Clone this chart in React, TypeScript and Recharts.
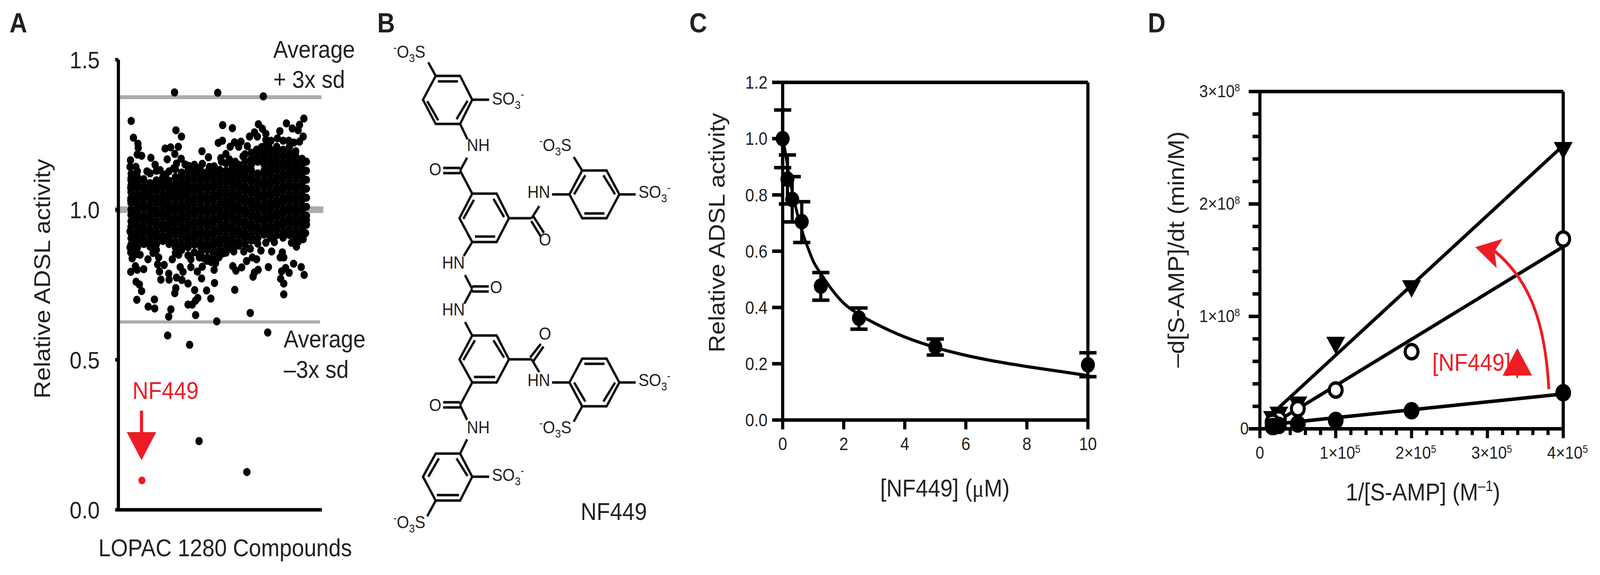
import React from 'react';
import { ComposedChart, Scatter, Line, XAxis, YAxis, ReferenceLine, ErrorBar } from 'recharts';

const FONT = '"Liberation Sans", Arial, sans-serif';
const INK = '#231f20';
const RED = '#ed1c24';
const GRAY = '#ababab';

// the browser window tops out at 4096 wide, so the 4568 wide figure is squeezed to fit it
const PAGE_W = 4568;
const PAGE_H = 1473;
const WINDOW_W = 4096;

// Panel A: screen values as [compound index, activity]
const screenOutliers: number[][] = [
  [331, 1.391], [638, 1.39], [962, 1.378], [23, 1.296], [39, 1.24], [71, 1.22], [73, 1.206], [66, 1.184], [97, 1.18],
  [163, 1.173], [18, 1.165], [193, 1.15], [15, 1.143], [56, 1.143], [23, 1.12], [341, 1.265], [380, 1.244], [264, 1.204],
  [303, 1.208], [358, 1.21], [333, 1.186], [279, 1.168], [378, 1.17], [345, 1.154], [406, 1.151], [325, 1.138], [526, 1.195],
  [572, 1.175], [472, 1.15], [528, 1.153], [579, 1.143], [673, 1.282], [742, 1.272], [671, 1.23], [642, 1.223], [726, 1.21],
  [757, 1.225], [803, 1.227], [696, 1.186], [660, 1.172], [665, 1.16], [787, 1.21], [848, 1.212], [818, 1.178], [762, 1.16],
  [927, 1.285], [955, 1.27], [899, 1.258], [864, 1.244], [980, 1.253], [919, 1.244], [1126, 1.288], [1079, 1.262], [1250, 1.304],
  [1219, 1.283], [1168, 1.271], [1209, 1.265], [1245, 1.244], [1219, 1.227], [1062, 1.238], [1103, 1.23], [1143, 1.23],
  [1179, 1.224], [980, 1.233], [1016, 1.23], [914, 1.2], [950, 1.209], [1001, 1.212],
  [1262, 0.922], [1197, 0.877], [1189, 0.902], [1177, 0.82], [1231, 0.809], [1252, 0.783], [1120, 0.806], [1092, 0.795],
  [1145, 0.79], [1085, 0.77], [1107, 0.754], [1107, 0.718], [998, 0.809], [925, 0.8], [899, 0.791], [889, 0.777], [808, 0.808],
  [767, 0.797], [745, 0.812], [759, 0.733], [869, 0.656], [631, 0.628], [481, 0.649], [305, 0.668], [290, 0.644], [188, 0.701],
  [190, 0.671], [144, 0.677], [63, 0.7], [97, 0.729], [81, 0.751], [58, 0.76], [20, 0.793], [66, 0.8], [112, 0.802], [53, 0.812],
  [234, 0.767], [292, 0.767], [290, 0.787], [224, 0.794], [211, 0.818], [257, 0.816], [345, 0.774], [383, 0.766], [427, 0.754],
  [340, 0.739], [333, 0.722], [474, 0.732], [496, 0.706], [480, 0.697], [457, 0.684], [427, 0.684], [559, 0.731], [589, 0.704],
  [615, 0.756], [612, 0.8], [622, 0.822], [523, 0.771], [493, 0.794], [528, 0.81], [391, 0.793], [371, 0.809], [447, 0.809],
  [282, 0.581], [438, 0.55], [993, 0.591], [1097, 0.858], [1107, 0.841], [1082, 0.841], [1021, 0.861], [1026, 0.904],
  [980, 0.89], [945, 0.864], [914, 0.835], [884, 0.841], [843, 0.829], [869, 0.87], [823, 0.861], [752, 0.861], [711, 0.878],
  [676, 0.855], [645, 0.841], [564, 0.841], [508, 0.841], [447, 0.835], [315, 0.835], [218, 0.841], [142, 0.835], [86, 0.85],
  [30, 0.838], [46, 0.89], [15, 0.875], [20, 0.858], [15, 0.928], [30, 0.963], [25, 0.986], [20, 1.032], [20, 1.073], [46, 1.09],
  [505, 0.229], [845, 0.126], [135, 1.128], [228, 1.132], [268, 1.118], [432, 1.146], [498, 1.138], [612, 1.145], [720, 1.168],
  [60, 0.852], [178, 0.856], [360, 0.85], [540, 0.838], [590, 0.826], [1210, 0.894], [1245, 0.902], [1162, 0.89], [1040, 0.892],
];
const screenHit = [[99, 0.098]];
const screenColumns: [number, number[]][] = [
  [22, [1.105, 1.098, 1.081, 1.059, 1.04, 1.022, 1.001, 0.983, 0.962, 0.944, 0.923, 0.905, 0.884, 0.866]],
  [67, [1.128, 1.109, 1.089, 1.071, 1.05, 1.031, 1.012, 0.992, 0.973, 0.953, 0.934, 0.915, 0.895, 0.874]],
  [112, [1.102, 1.099, 1.078, 1.06, 1.041, 1.02, 1.003, 0.981, 0.964, 0.943, 0.925, 0.904, 0.886]],
  [157, [1.121, 1.089, 1.069, 1.05, 1.032, 1.011, 0.993, 0.973, 0.955, 0.934, 0.916, 0.895, 0.877]],
  [202, [1.13, 1.098, 1.079, 1.061, 1.04, 1.022, 1.001, 0.984, 0.963, 0.945, 0.924, 0.906, 0.885, 0.866]],
  [247, [1.108, 1.107, 1.088, 1.07, 1.049, 1.03, 1.012, 0.991, 0.974, 0.953, 0.935, 0.914, 0.896]],
  [292, [1.128, 1.097, 1.078, 1.059, 1.041, 1.02, 1.002, 0.982, 0.963, 0.944, 0.925, 0.905, 0.886]],
  [337, [1.135, 1.109, 1.088, 1.07, 1.05, 1.032, 1.011, 0.993, 0.972, 0.954, 0.933, 0.916, 0.894, 0.875, 0.856]],
  [382, [1.124, 1.118, 1.098, 1.08, 1.06, 1.042, 1.021, 1.003, 0.982, 0.964, 0.943, 0.925, 0.905, 0.884, 0.866]],
  [427, [1.13, 1.109, 1.089, 1.07, 1.051, 1.031, 1.012, 0.992, 0.973, 0.953, 0.934, 0.914, 0.895, 0.875, 0.848]],
  [472, [1.14, 1.12, 1.1, 1.079, 1.061, 1.04, 1.022, 1.001, 0.983, 0.962, 0.944, 0.923, 0.905, 0.884, 0.858]],
  [517, [1.13, 1.11, 1.09, 1.071, 1.05, 1.032, 1.011, 0.993, 0.972, 0.954, 0.933, 0.915, 0.894, 0.876, 0.855]],
  [562, [1.126, 1.12, 1.101, 1.08, 1.062, 1.041, 1.023, 1.002, 0.984, 0.963, 0.945, 0.924, 0.906, 0.885, 0.866, 0.83]],
  [607, [1.125, 1.11, 1.09, 1.072, 1.051, 1.033, 1.012, 0.994, 0.973, 0.955, 0.934, 0.916, 0.895, 0.877, 0.856, 0.838]],
  [652, [1.133, 1.118, 1.099, 1.08, 1.06, 1.042, 1.021, 1.003, 0.982, 0.964, 0.943, 0.925, 0.904, 0.886, 0.865, 0.847]],
  [697, [1.155, 1.13, 1.11, 1.091, 1.07, 1.052, 1.031, 1.013, 0.992, 0.974, 0.953, 0.935, 0.914, 0.896, 0.875, 0.857]],
  [742, [1.148, 1.14, 1.12, 1.1, 1.081, 1.06, 1.042, 1.021, 1.003, 0.982, 0.964, 0.943, 0.925, 0.904, 0.886, 0.867]],
  [787, [1.15, 1.13, 1.111, 1.09, 1.071, 1.05, 1.032, 1.011, 0.993, 0.972, 0.954, 0.933, 0.915, 0.894, 0.88]],
  [832, [1.185, 1.162, 1.14, 1.12, 1.101, 1.08, 1.062, 1.041, 1.023, 1.002, 0.984, 0.963, 0.945, 0.924, 0.906, 0.885]],
  [877, [1.19, 1.17, 1.15, 1.131, 1.11, 1.092, 1.071, 1.053, 1.032, 1.014, 0.993, 0.975, 0.954, 0.936, 0.915, 0.897]],
  [922, [1.2, 1.18, 1.16, 1.121, 1.1, 1.082, 1.061, 1.043, 1.022, 1.004, 0.983, 0.965, 0.944, 0.926, 0.905, 0.887]],
  [967, [1.21, 1.19, 1.17, 1.151, 1.13, 1.112, 1.091, 1.073, 1.052, 1.034, 1.013, 0.995, 0.974, 0.956, 0.935, 0.917]],
  [1012, [1.2, 1.18, 1.16, 1.14, 1.122, 1.101, 1.083, 1.062, 1.044, 1.023, 1.005, 0.984, 0.966, 0.945, 0.927, 0.906]],
  [1057, [1.21, 1.19, 1.17, 1.15, 1.131, 1.11, 1.092, 1.071, 1.053, 1.032, 1.014, 0.993, 0.975, 0.954, 0.936, 0.915]],
  [1102, [1.2, 1.18, 1.16, 1.141, 1.12, 1.102, 1.081, 1.063, 1.042, 1.024, 1.003, 0.985, 0.964, 0.946, 0.925, 0.907]],
  [1147, [1.21, 1.19, 1.17, 1.15, 1.13, 1.111, 1.09, 1.072, 1.051, 1.033, 1.012, 0.994, 0.973, 0.955, 0.934, 0.916]],
  [1192, [1.195, 1.18, 1.16, 1.14, 1.12, 1.101, 1.08, 1.062, 1.041, 1.023, 1.002, 0.984, 0.963, 0.945, 0.924, 0.906]],
  [1237, [1.17, 1.15, 1.13, 1.111, 1.09, 1.072, 1.051, 1.033, 1.012, 0.994, 0.973, 0.955, 0.934, 0.916]],
  [1268, [1.16, 1.13, 1.1, 1.07, 1.04, 1.01, 0.98, 0.95, 0.965]],
];
const screenLimits = { upper: 1.375, mean: 1.0, lower: 0.626 };
const screenTicks = [0, 0.5, 1, 1.5];

// Panel C: dose response
const doses = [0, 0.156, 0.3125, 0.625, 1.25, 2.5, 5, 10];
const relActivity = [1.0, 0.856, 0.784, 0.705, 0.476, 0.362, 0.26, 0.196];
const errHigh = [1.102, 0.942, 0.865, 0.776, 0.524, 0.398, 0.288, 0.239];
const errLow = [0.897, 0.768, 0.704, 0.631, 0.426, 0.323, 0.231, 0.154];
const fitDoses = [0, 0.06, 0.2, 0.43, 0.67, 0.87, 1, 1.25, 1.5, 2, 2.5, 3, 4, 5, 6, 7, 8, 9, 10];
const fitValues = [1.0, 0.968, 0.875, 0.755, 0.66, 0.6, 0.565, 0.52, 0.48, 0.415, 0.375, 0.345, 0.295, 0.258, 0.23, 0.208, 0.19, 0.174, 0.158];
const doseTicks = [0, 2, 4, 6, 8, 10];
const activityTicks = [0, 0.2, 0.4, 0.6, 0.8, 1, 1.2];

// Panel D: double reciprocal
const reciprocal = [400000, 200000, 100000, 50000, 25000, 16700];
const noInhibitor = [32100000, 16100000, 7470000, 4300000, 3000000, 2000000];
const midInhibitor = [168800000, 68600000, 34500000, 17900000, 8800000, 5800000];
const highInhibitor = [247500000, 124600000, 74200000, 21100000, 12100000, 8200000];
const lineEnds = [16700, 400000];
const noInhibitorFit = [4000000, 31000000];
const midInhibitorFit = [4100000, 162000000];
const highInhibitorFit = [13700000, 252000000];
const reciprocalTicks = Array.from({ length: 21 }, (_, i) => i * 20000);
const rateTicks = Array.from({ length: 16 }, (_, i) => i * 20000000);

const screenData = [
  ...screenOutliers,
  ...screenColumns.flatMap(([idx, vals]) => vals.map((v) => [idx, v])),
].map(([idx, activity]) => ({ idx, activity }));
const doseData = doses.map((x, i) => ({
  x,
  y: relActivity[i],
  err: [relActivity[i] - errLow[i], errHigh[i] - relActivity[i]],
}));
const fitData = fitDoses.map((x, i) => ({ x, y: fitValues[i] }));
const series = (ys: number[]) => reciprocal.map((x, i) => ({ x, y: ys[i] }));
const fitLine = (ys: number[]) => lineEnds.map((x, i) => ({ x, y: ys[i] }));

const Dot = ({ cx, cy, r, fill, stroke, strokeWidth }: any) => (
  <circle cx={cx} cy={cy} r={r} fill={fill} stroke={stroke} strokeWidth={strokeWidth} />
);
const DownTriangle = ({ cx, cy }: any) => (
  <polygon points={`${cx - 27},${cy - 22} ${cx + 27},${cy - 22} ${cx},${cy + 23}`} fill="#000" />
);

const ReciprocalTick = ({ x, y, payload }: any) => {
  const v = payload.value;
  const major = v % 100000 === 0;
  return (
    <g>
      <line x1={x} x2={x} y1={y} y2={y + (major ? 24 : 16)} stroke="#000" strokeWidth={9} />
      {major && v === 0 && (
        <text x={x} y={1175} textAnchor="middle" fontSize={44} fontFamily={FONT} fill={INK}>0</text>
      )}
      {major && v > 0 && (
        <text x={x - 46} y={1175} fontSize={45} fontFamily={FONT} fill={INK}>
          {v / 100000}×10<tspan dy={-15} fontSize={27}>5</tspan>
        </text>
      )}
    </g>
  );
};
const RateTick = ({ x, y, payload }: any) => {
  const v = payload.value;
  const major = v % 100000000 === 0;
  return (
    <g>
      <line x1={x} x2={x - (major ? 32 : 21)} y1={y} y2={y} stroke="#000" strokeWidth={9} />
      {major && v === 0 && (
        <text x={315} y={y + 15} textAnchor="end" fontSize={44} fontFamily={FONT} fill={INK}>0</text>
      )}
      {major && v > 0 && (
        <text x={290} y={y + 15} textAnchor="end" fontSize={45} fontFamily={FONT} fill={INK}>
          {v / 100000000}×10<tspan dy={-15} fontSize={27}>8</tspan>
        </text>
      )}
    </g>
  );
};

const ScreenPanel = () => (
  <div style={{ position: 'absolute', left: 0, top: 0 }}>
    <ComposedChart width={1050} height={1473} margin={{ top: 153, right: 131, bottom: 127, left: 0 }} data={screenData}>
      <XAxis type="number" dataKey="idx" domain={[-68, 1378]} tick={false} tickLine={false} height={40} axisLine={{ stroke: '#000', strokeWidth: 9 }} />
      <YAxis
        type="number"
        width={338}
        domain={[0, 1.5]}
        ticks={screenTicks}
        tickFormatter={(v: number) => v.toFixed(1)}
        tick={{ fontSize: 62, fill: INK, fontFamily: FONT }}
        tickSize={9}
        tickMargin={44}
        tickLine={{ stroke: '#000', strokeWidth: 9 }}
        axisLine={{ stroke: '#000', strokeWidth: 9 }}
      />
      <ReferenceLine ifOverflow="visible" segment={[{ x: -80, y: screenLimits.upper }, { x: 1375, y: screenLimits.upper }]} stroke={GRAY} strokeWidth={10} />
      <ReferenceLine ifOverflow="visible" segment={[{ x: -90, y: screenLimits.mean }, { x: 1388, y: screenLimits.mean }]} stroke={GRAY} strokeWidth={17} />
      <ReferenceLine ifOverflow="visible" segment={[{ x: -70, y: screenLimits.lower }, { x: 1365, y: screenLimits.lower }]} stroke={GRAY} strokeWidth={8} />
      <Scatter dataKey="activity" isAnimationActive={false} shape={(p: any) => <Dot cx={p.cx} cy={p.cy} r={10.5} fill="#000" />} />
      <Scatter
        data={screenHit.map(([idx, activity]) => ({ idx, activity }))}
        dataKey="activity"
        isAnimationActive={false}
        shape={(p: any) => <Dot cx={p.cx} cy={p.cy} r={10} fill={RED} />}
      />
    </ComposedChart>
  </div>
);

const DosePanel = () => (
  <div style={{ position: 'absolute', left: 1950, top: 0 }}>
    <ComposedChart width={1300} height={1473} margin={{ top: 211, right: 144, bottom: 317, left: 0 }}>
      <XAxis
        type="number"
        dataKey="x"
        domain={[0, 10]}
        ticks={doseTicks}
        height={80}
        tick={{ fontSize: 46, fill: INK, fontFamily: FONT }}
        tickSize={24}
        tickMargin={20}
        tickLine={{ stroke: '#000', strokeWidth: 9 }}
        axisLine={{ stroke: '#000', strokeWidth: 9 }}
      />
      <YAxis
        type="number"
        width={284.5}
        domain={[0, 1.2]}
        ticks={activityTicks}
        tickFormatter={(v: number) => v.toFixed(1)}
        tick={{ fontSize: 46, fill: INK, fontFamily: FONT }}
        tickSize={30}
        tickMargin={13}
        tickLine={{ stroke: '#000', strokeWidth: 9 }}
        axisLine={{ stroke: '#000', strokeWidth: 9 }}
      />
      <ReferenceLine x={10} stroke="#000" strokeWidth={9} />
      <ReferenceLine y={1.2} stroke="#000" strokeWidth={9} />
      <Line data={fitData} dataKey="y" type="monotone" stroke="#000" strokeWidth={8} dot={false} isAnimationActive={false} />
      <Scatter data={doseData} dataKey="y" isAnimationActive={false} shape={(p: any) => <Dot cx={p.cx} cy={p.cy} r={20} fill="#000" />}>
        <ErrorBar dataKey="err" direction="y" width={24.5} strokeWidth={9} stroke="#000" isAnimationActive={false} />
      </Scatter>
    </ComposedChart>
  </div>
);

const KineticsPanel = () => (
  <div style={{ position: 'absolute', left: 3250, top: 0 }}>
    <ComposedChart width={1318} height={1473} margin={{ top: 234.5, right: 105, bottom: 294.5, left: 0 }}>
      <XAxis
        type="number"
        dataKey="x"
        domain={[0, 400000]}
        ticks={reciprocalTicks}
        interval={0}
        height={80}
        tickSize={0}
        tickMargin={0}
        tickLine={false}
        tick={<ReciprocalTick />}
        axisLine={{ stroke: '#000', strokeWidth: 9 }}
      />
      <YAxis
        type="number"
        width={347}
        domain={[0, 300000000]}
        ticks={rateTicks}
        interval={0}
        tickSize={0}
        tickMargin={0}
        tickLine={false}
        tick={<RateTick />}
        axisLine={{ stroke: '#000', strokeWidth: 9 }}
      />
      <ReferenceLine x={400000} stroke="#000" strokeWidth={9} />
      <ReferenceLine y={300000000} stroke="#000" strokeWidth={9} />
      <Line data={fitLine(noInhibitorFit)} dataKey="y" stroke="#000" strokeWidth={9} dot={false} isAnimationActive={false} />
      <Line data={fitLine(midInhibitorFit)} dataKey="y" stroke="#000" strokeWidth={9} dot={false} isAnimationActive={false} />
      <Line data={fitLine(highInhibitorFit)} dataKey="y" stroke="#000" strokeWidth={9} dot={false} isAnimationActive={false} />
      <Scatter data={series(highInhibitor)} dataKey="y" isAnimationActive={false} shape={(p: any) => <DownTriangle cx={p.cx} cy={p.cy} />} />
      <Scatter data={series(midInhibitor)} dataKey="y" isAnimationActive={false} shape={(p: any) => <Dot cx={p.cx} cy={p.cy} r={18.3} fill="#fff" stroke="#000" strokeWidth={8.7} />} />
      <Scatter data={series(noInhibitor)} dataKey="y" isAnimationActive={false} shape={(p: any) => <Dot cx={p.cx} cy={p.cy} r={22.5} fill="#000" />} />
    </ComposedChart>
  </div>
);

// Panel B: molecule, traced in crop coordinates then scaled to the page
const bx = (v: number) => 1050 + v / 1.65;
const by = (v: number) => v / 1.0645;
const chemRings: number[][] = [
  [320, 207, 435, 207, 492, 272, 435, 338, 320, 338, 260, 272],
  [492, 528, 607, 528, 665, 595, 607, 660, 492, 660, 432, 595],
  [950, 530, 1010, 465, 1125, 465, 1185, 530, 1125, 595, 1010, 595],
  [492, 915, 607, 915, 665, 980, 607, 1043, 492, 1043, 432, 980],
  [950, 1043, 1010, 978, 1125, 978, 1185, 1043, 1125, 1108, 1010, 1108],
  [320, 1237, 435, 1237, 492, 1300, 435, 1365, 320, 1365, 260, 1300],
];
const chemBonds: number[][] = [
  [330, 222, 425, 222], [280, 276, 332, 328], [418, 325, 470, 275], [285, 170, 320, 207], [492, 272, 572, 272], [435, 338, 470, 380],
  [468, 430, 435, 465], [435, 465, 492, 528], [355, 458, 435, 458], [355, 472, 435, 472],
  [592, 542, 642, 592], [450, 597, 500, 545], [505, 645, 600, 645],
  [665, 595, 772, 595], [772, 595, 808, 562], [780, 590, 830, 635], [770, 603, 815, 645], [868, 530, 950, 530],
  [972, 530, 1025, 478], [1110, 478, 1165, 530], [1020, 582, 1115, 582], [1185, 530, 1262, 530], [1010, 465, 970, 428],
  [492, 660, 452, 698], [458, 750, 492, 788], [492, 781, 570, 781], [492, 795, 570, 795], [492, 788, 455, 828], [458, 878, 492, 915],
  [592, 928, 642, 975], [450, 982, 505, 928], [500, 1028, 600, 1028],
  [665, 980, 772, 980], [765, 975, 815, 938], [780, 985, 828, 945], [772, 980, 808, 1015], [868, 1043, 950, 1043],
  [1020, 992, 1115, 992], [1110, 1095, 1165, 1043], [972, 1043, 1025, 1095], [1185, 1043, 1262, 1043], [1010, 1108, 970, 1150],
  [492, 1043, 435, 1105], [355, 1097, 435, 1097], [355, 1111, 435, 1111], [435, 1105, 468, 1145], [468, 1198, 435, 1237],
  [285, 1300, 335, 1250], [418, 1250, 470, 1298], [325, 1350, 430, 1350], [492, 1300, 572, 1300], [320, 1365, 280, 1408],
];
const chemPlain: [string, number, number][] = [
  ['NH', 467, 412], ['HN', 752, 540], ['HN', 350, 732], ['HN', 350, 860], ['HN', 752, 1053], ['NH', 467, 1182],
];
const chemOxygens: number[][] = [[318, 478], [835, 670], [605, 799], [835, 926], [318, 1121]];
const chemLeftSulfo: number[][] = [[120, 158], [808, 412], [808, 1182], [120, 1440]];
const chemRightSulfo: number[][] = [[585, 285], [1275, 540], [1275, 1053], [585, 1312]];

const chemStyle = { fontSize: 45, fontFamily: FONT, fill: INK };

const Molecule = () => (
  <g>
    {chemRings.map((r, i) => (
      <polygon
        key={i}
        points={r.map((v, j) => (j % 2 === 0 ? bx(v) : by(v))).join(' ')}
        fill="none"
        stroke="#111"
        strokeWidth={6.5}
      />
    ))}
    {chemBonds.map(([a, b, c, d], i) => (
      <line key={i} x1={bx(a)} y1={by(b)} x2={bx(c)} y2={by(d)} stroke="#111" strokeWidth={6.5} />
    ))}
    {chemPlain.map(([t, x, y], i) => (
      <text key={i} x={bx(x)} y={by(y)} {...chemStyle}>{t}</text>
    ))}
    {chemOxygens.map(([x, y], i) => (
      <text key={i} x={bx(x)} y={by(y)} textAnchor="middle" {...chemStyle}>O</text>
    ))}
    {chemLeftSulfo.map(([x, y], i) => (
      <text key={i} x={bx(x)} y={by(y)} {...chemStyle}>
        <tspan fontSize={30} dy={-16}>-</tspan>
        <tspan dy={16}>O</tspan>
        <tspan fontSize={30} dy={11}>3</tspan>
        <tspan dy={-11}>S</tspan>
      </text>
    ))}
    {chemRightSulfo.map(([x, y], i) => (
      <text key={i} x={bx(x)} y={by(y)} {...chemStyle}>
        SO
        <tspan fontSize={30} dy={11}>3</tspan>
        <tspan fontSize={30} dy={-27}>-</tspan>
      </text>
    ))}
  </g>
);

const txt = { fontFamily: FONT, fontSize: 63, fill: INK };

const Annotations = () => (
  <svg width={PAGE_W} height={PAGE_H} style={{ position: 'absolute', left: 0, top: 0, pointerEvents: 'none' }}>
    <text x={27} y={83} fontFamily={FONT} fontSize={70} fontWeight="bold" fill={INK}>A</text>
    <text x={1077} y={83} fontFamily={FONT} fontSize={70} fontWeight="bold" fill={INK}>B</text>
    <text x={1968} y={83} fontFamily={FONT} fontSize={70} fontWeight="bold" fill={INK}>C</text>
    <text x={3277} y={83} fontFamily={FONT} fontSize={70} fontWeight="bold" fill={INK}>D</text>

    <text transform="translate(143,714) rotate(-90)" textAnchor="middle" {...txt}>Relative ADSL activity</text>
    <text x={281} y={1425} {...txt}>LOPAC 1280 Compounds</text>
    <text x={780} y={148} {...txt}>Average</text>
    <text x={780} y={225} {...txt}>+ 3x sd</text>
    <text x={810} y={890} {...txt}>Average</text>
    <text x={810} y={968} {...txt}>–3x sd</text>
    <text x={378} y={1022} {...txt} fill={RED}>NF449</text>
    <line x1={404} y1={1052} x2={404} y2={1110} stroke={RED} strokeWidth={9} />
    <polygon points="362,1107 446,1107 404,1179" fill={RED} />

    <Molecule />
    <text x={bx(1003)} y={by(1418)} {...txt}>NF449</text>

    <text transform="translate(2069,596) rotate(-90)" textAnchor="middle" {...txt}>Relative ADSL activity</text>
    <text x={2513} y={1272} {...txt}>
      [NF449] (<tspan fontFamily='"Liberation Serif", serif'>μ</tspan>M)
    </text>

    <text transform="translate(3380,639) rotate(-90)" textAnchor="middle" {...txt}>–d[S-AMP]/dt (min/M)</text>
    <text x={3842} y={1282} {...txt}>
      1/[S-AMP] (M<tspan fontSize={38} dy={-24}>–1</tspan><tspan dy={24}>)</tspan>
    </text>
    <path d="M4422,997 C4412,830 4370,720 4267,643" fill="none" stroke={RED} strokeWidth={8} />
    <polygon points="4212,633 4290,612 4267,643 4273,687" fill={RED} />
    <text x={4089} y={950} {...txt} fill={RED}>[NF449]</text>
    <line x1={4332} y1={955} x2={4332} y2={968} stroke={RED} strokeWidth={5} />
    <polygon points="4332,892 4290,962 4374,962" fill={RED} />
  </svg>
);

export default function App() {
  return (
    <div style={{ position: 'fixed', left: 0, top: 0, width: WINDOW_W, height: PAGE_H, background: '#fff', overflow: 'hidden' }}>
      <div style={{ position: 'absolute', left: 0, top: 0, width: PAGE_W, height: PAGE_H, transform: `scaleX(${WINDOW_W / PAGE_W})`, transformOrigin: '0 0' }}>
        <ScreenPanel />
        <DosePanel />
        <KineticsPanel />
        <Annotations />
      </div>
    </div>
  );
}
